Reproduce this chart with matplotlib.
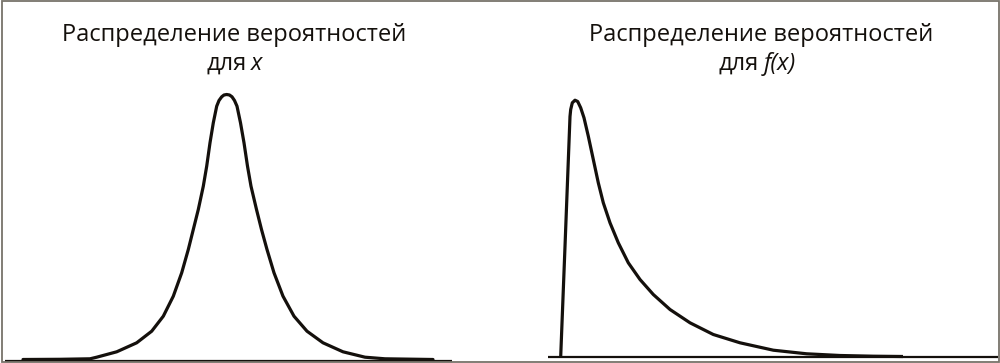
import matplotlib
matplotlib.use("Agg")
import matplotlib.pyplot as plt
from matplotlib.patches import Rectangle
from matplotlib.transforms import blended_transform_factory

plt.rcParams['font.family'] = ['Open Sans', 'DejaVu Sans']

# left curve: distribution of x (position, height above baseline)
x_left = [23, 60, 90, 96.7, 116.7, 136.7, 151.7, 163.3, 173.3, 181.7, 188.3, 193.3,
          198.3, 203.3, 206.7, 210, 213.3, 216.7, 219, 221.7, 224, 226.7, 229.5,
          232, 234.5, 237, 240.5, 244, 247.5, 251, 256.5, 261.5, 267, 274, 283,
          294, 307, 323, 343, 365, 385, 433]
h_left = [1, 1.2, 1.7, 3.3, 8.7, 17.7, 29.3, 44.3, 64.3, 87.7, 111, 131,
          151, 174.3, 194.3, 217.7, 237.7, 254.3, 260, 263.7, 265.5, 266, 265.5,
          263.7, 260, 254.3, 237.7, 217.7, 194.3, 174.3, 151, 131, 111, 87.7, 64.3,
          44.3, 29.3, 17.7, 8.7, 3.3, 1.7, 1]

# right curve: distribution of f(x)
x_right = [560.7, 565, 570, 570.7, 572.3, 575, 577.7, 580.7, 584, 588.3, 593.3,
           598.3, 603.3, 610, 618.3, 628.3, 640, 653.3, 670, 690, 713.3, 740,
           773.3, 806.7, 840, 873.3, 903]
h_right = [0, 110, 240, 247, 253.7, 256.3, 255, 248.7, 238.7, 220.3, 197,
           173.7, 153.7, 133.7, 113.7, 93.7, 77, 62, 47, 33.7, 22, 13.7,
           6.3, 2.7, 1, 0.3, 0]

title_main = "Распределение вероятностей"
sub_word = "для"
sub_left = "x"
sub_right = "f(x)"

ink = '#14100c'

fig = plt.figure(figsize=(10, 3.63), dpi=100)

ax1 = fig.add_axes([0, 0, 0.5, 1])
ax1.set_xlim(0, 500)
ax1.set_ylim(-2.5, 360.5)
ax1.hlines(0, 5, 452, color=ink, lw=1.6)
ax1.plot(x_left, h_left, color=ink, lw=2.3, solid_capstyle='round', solid_joinstyle='round')
tr1 = blended_transform_factory(ax1.transData, ax1.transAxes)
ax1.text(234, 0.904, title_main, transform=tr1, ha='center', va='center', fontsize=17, color=ink)
ax1.text(247, 0.824, sub_word, transform=tr1, ha='right', va='center', fontsize=17, color=ink)
ax1.text(251, 0.824, sub_left, transform=tr1, ha='left', va='center', fontsize=17,
         style='italic', color=ink)
ax1.axis('off')

ax2 = fig.add_axes([0.5, 0, 0.5, 1])
ax2.set_xlim(500, 1000)
ax2.set_ylim(-6.5, 356.5)
ax2.hlines(0, 548, 998, color=ink, lw=1.6)
ax2.plot(x_right, h_right, color=ink, lw=2.3, solid_capstyle='butt', solid_joinstyle='round')
tr2 = blended_transform_factory(ax2.transData, ax2.transAxes)
ax2.text(761, 0.904, title_main, transform=tr2, ha='center', va='center', fontsize=17, color=ink)
ax2.text(759, 0.824, sub_word, transform=tr2, ha='right', va='center', fontsize=17, color=ink)
ax2.text(764, 0.824, sub_right, transform=tr2, ha='left', va='center', fontsize=17,
         style='italic', color=ink)
ax2.axis('off')

# thin grey frame round the picture
fig.patches.append(Rectangle((0.0015, 0.004), 0.997, 0.992, transform=fig.transFigure,
                             fill=False, ec='#77736a', lw=1.3))

fig.savefig("out.png", dpi=100)
